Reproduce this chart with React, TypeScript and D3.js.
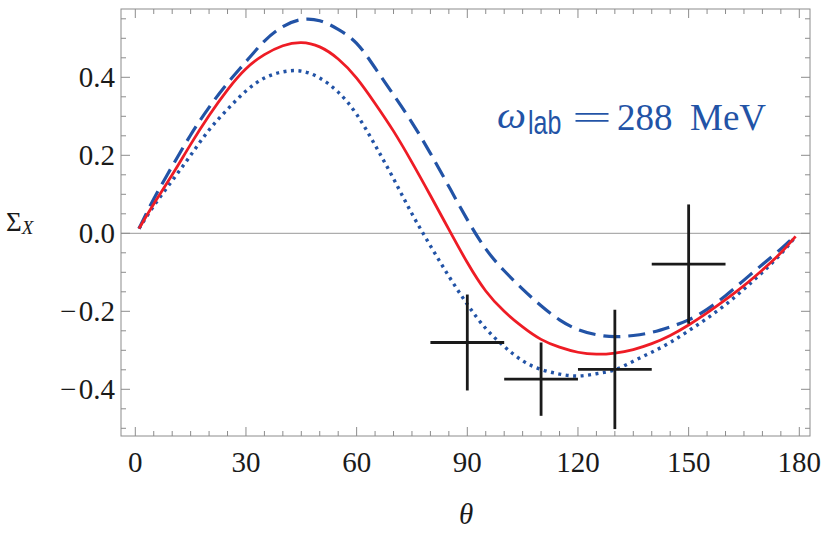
import * as d3 from "d3";

const theta = [1, 5, 10, 15, 20, 25, 30, 35, 40, 45, 50, 55, 60, 65, 70, 75, 80, 85, 90, 95, 100, 105, 110, 115, 120, 125, 130, 135, 140, 145, 150, 155, 160, 165, 170, 175, 179];

const solid = [0.012, 0.075, 0.15, 0.228, 0.302, 0.368, 0.422, 0.458, 0.481, 0.489, 0.478, 0.447, 0.398, 0.333, 0.262, 0.182, 0.097, 0.01, -0.075, -0.148, -0.2, -0.24, -0.272, -0.292, -0.305, -0.31, -0.307, -0.298, -0.283, -0.262, -0.235, -0.204, -0.17, -0.134, -0.094, -0.05, -0.008];

const dashed = [0.012, 0.088, 0.172, 0.252, 0.323, 0.385, 0.44, 0.493, 0.53, 0.548, 0.545, 0.523, 0.487, 0.424, 0.355, 0.284, 0.205, 0.12, 0.035, -0.04, -0.096, -0.143, -0.186, -0.222, -0.247, -0.26, -0.265, -0.262, -0.254, -0.24, -0.222, -0.195, -0.16, -0.12, -0.08, -0.04, -0.005];

const dotted = [0.012, 0.07, 0.135, 0.2, 0.265, 0.318, 0.365, 0.398, 0.414, 0.416, 0.398, 0.362, 0.305, 0.226, 0.14, 0.05, -0.032, -0.11, -0.182, -0.244, -0.29, -0.327, -0.349, -0.361, -0.366, -0.36, -0.35, -0.328, -0.305, -0.28, -0.25, -0.218, -0.183, -0.143, -0.1, -0.053, -0.008];

// measured points: angle, bin half width, value, error
const expTheta = [90, 110, 130, 150];
const expHalfWidth = [10, 10, 10, 10];
const expValue = [-0.28, -0.374, -0.349, -0.079];
const expError = [0.123, 0.094, 0.153, 0.153];

const xTicks = [0, 30, 60, 90, 120, 150, 180];
const yTicks = [-0.4, -0.2, 0.0, 0.2, 0.4];

const W = 830;
const H = 535;
const left = 121;
const right = 810;
const top = 9;
const bottom = 436;

const x = d3.scaleLinear().domain([0, 180]).range([135.3, 799.3]);
const y = d3.scaleLinear().domain([0, 0.4]).range([233.3, 77.3]);

const blue = "#2253a6";
const red = "#ee1c25";
const frame = "#8c8c8c";

const fmt = (v: number) => (v < 0 ? "\u2212\u200A" + Math.abs(v).toFixed(1) : v.toFixed(1));

export default function App() {
  const line = d3
    .line<number>()
    .x((_, i) => x(theta[i]))
    .y((d) => y(d))
    .curve(d3.curveNatural);

  const xMinor = d3.range(0, 181, 5);
  const yMinor = d3.range(-10, 12).map((k) => k * 0.05);

  return (
    <svg width={W} height={H} style={{ position: "absolute", left: 0, top: 0, background: "#fff" }}>
      {/* zero line */}
      <line x1={left} x2={right} y1={y(0)} y2={y(0)} stroke="#999" strokeWidth={1} />

      {/* curves */}
      <path d={line(dotted) || ""} fill="none" stroke={blue} strokeWidth={3.4} strokeDasharray="3 4.5" />
      <path d={line(dashed) || ""} fill="none" stroke={blue} strokeWidth={3.2} strokeDasharray="17 8" />
      <path d={line(solid) || ""} fill="none" stroke={red} strokeWidth={2.8} />

      {/* data crosses */}
      {expTheta.map((t, i) => (
        <g key={t} stroke="#1a1a1a" strokeWidth={2.8}>
          <line x1={x(t - expHalfWidth[i])} x2={x(t + expHalfWidth[i])} y1={y(expValue[i])} y2={y(expValue[i])} />
          <line x1={x(t)} x2={x(t)} y1={y(expValue[i] - expError[i])} y2={y(expValue[i] + expError[i])} />
        </g>
      ))}

      {/* frame */}
      <rect x={left} y={top} width={right - left} height={bottom - top} fill="none" stroke={frame} strokeWidth={1} />
      {xMinor.map((t) => {
        const len = t % 30 === 0 ? 9 : 5;
        return (
          <g key={"x" + t} stroke={frame} strokeWidth={1}>
            <line x1={x(t)} x2={x(t)} y1={bottom} y2={bottom - len} />
            <line x1={x(t)} x2={x(t)} y1={top} y2={top + len} />
          </g>
        );
      })}
      {yMinor.map((v, k) => {
        const major = Math.abs(Math.round(v * 100) % 20) === 0;
        const len = major ? 9 : 5;
        return (
          <g key={"y" + k} stroke={frame} strokeWidth={1}>
            <line x1={left} x2={left + len} y1={y(v)} y2={y(v)} />
            <line x1={right} x2={right - len} y1={y(v)} y2={y(v)} />
          </g>
        );
      })}

      {/* tick labels */}
      <g fontFamily="'Liberation Serif', 'Times New Roman', serif" fontSize={29} fill="#1a1a1a">
        {xTicks.map((t) => (
          <text key={t} x={x(t)} y={472} textAnchor="middle">
            {t}
          </text>
        ))}
        {yTicks.map((v) => (
          <text key={v} x={115} y={y(v) + 10} textAnchor="end">
            {fmt(v)}
          </text>
        ))}
      </g>

      {/* axis titles */}
      <text x={6} y={231} fontFamily="'Liberation Serif', serif" fontSize={27} fill="#1a1a1a">
        Σ
        <tspan fontStyle="italic" fontSize={19} dy={3}>X</tspan>
      </text>
      <text x={466} y={524} textAnchor="middle" fontFamily="'Liberation Serif', serif" fontStyle="italic" fontSize={29} fill="#1a1a1a">
        θ
      </text>

      {/* energy label */}
      <g fontFamily="'Liberation Serif', serif" fontSize={37} fill={blue}>
        <text x={497} y={128} fontStyle="italic" textLength={29} lengthAdjust="spacingAndGlyphs">ω</text>
        <text
          transform="translate(528,134) scale(1,1.35)"
          fontFamily="'Liberation Sans', sans-serif"
          fontSize={25}
        >
          lab
        </text>
        <text x={572} y={129} fontSize={33} textLength={40} lengthAdjust="spacingAndGlyphs">=</text>
        <text x={617} y={130}>288</text>
        <text x={690} y={130}>MeV</text>
      </g>
    </svg>
  );
}
